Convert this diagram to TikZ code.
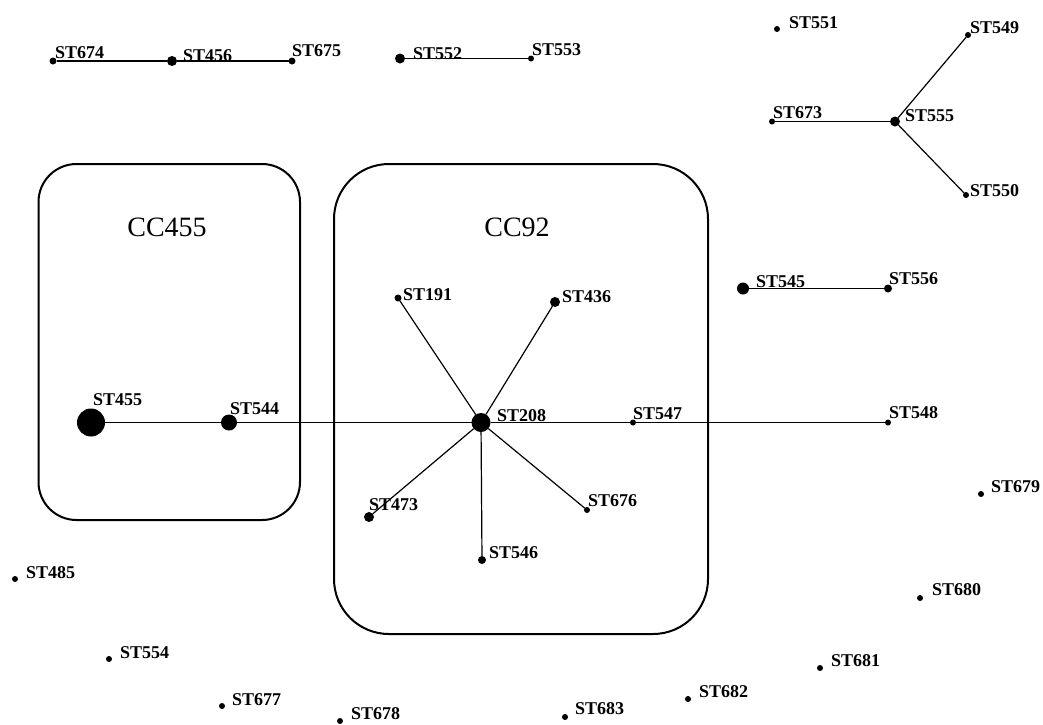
\documentclass[tikz,border=0pt]{standalone}
\usepackage{fontspec}
\setmainfont{Liberation Serif}
\newcommand{\stdot}[6]{%
  \node[dot,minimum size=#4pt] (s#1) at (#2,#3) {};
  \node[lab] (l#1) at (#5,#6) {ST#1};}
\tikzset{
  dot/.style={circle,fill=black,inner sep=0pt,outer sep=0pt},
  lab/.style={anchor=base west,inner sep=0pt,font=\bfseries\fontsize{18}{18}\selectfont},
  cclab/.style={anchor=base,inner sep=0pt,font=\fontsize{28}{28}\selectfont},
  link/.style={line width=1.2pt},
  ccbox/.style={line width=2pt}
}
\begin{document}
\begin{tikzpicture}[x=1pt,y=-1pt]
\useasboundingbox (0,0) rectangle (1043,724);
% cluster boxes
\draw[ccbox,rounded corners=38pt] (38.5,164) rectangle (300,520);
\draw[ccbox,rounded corners=55pt] (334,164) rectangle (708,634);
\node[cclab] (cc455) at (167,236) {CC455};
\node[cclab] (cc92) at (517,236) {CC92};
% top left chain
\stdot{674}{53}{61}{7}{55}{58}
\stdot{456}{172}{61}{10}{183}{61}
\stdot{675}{292}{61}{7}{292}{56}
\stdot{552}{400}{58.5}{10}{413}{59}
\stdot{553}{531}{58.5}{6}{532}{55}
% top right
\stdot{551}{777}{29}{6}{789}{28}
\stdot{549}{968}{35}{6}{970}{33}
\stdot{673}{772}{121.5}{6}{773}{118}
\stdot{555}{895}{121.5}{10}{905}{121}
\stdot{550}{966}{195}{6}{970}{196}
% main chain
\stdot{455}{91}{422.5}{28}{93}{405}
\stdot{544}{229}{422.5}{16}{230}{414}
\stdot{208}{481}{422.5}{19}{497}{421}
\stdot{547}{633}{422.5}{6}{633}{419}
\stdot{548}{888}{422.5}{6}{889}{418}
\stdot{191}{398}{298}{7}{403}{300}
\stdot{436}{555}{302}{10}{562}{302}
\stdot{473}{369}{517}{10}{369}{510}
\stdot{676}{587}{510}{6}{588}{506}
\stdot{546}{482}{560}{8}{489}{558}
\stdot{545}{743}{288.5}{12}{756}{287}
\stdot{556}{888}{288.5}{8}{889}{284}
% singletons
\stdot{679}{981}{494}{6}{991}{492}
\stdot{485}{15}{579}{6}{26}{578}
\stdot{680}{920}{598}{6}{932}{595}
\stdot{554}{109}{659}{6}{120}{658}
\stdot{681}{820}{668}{6}{831}{666}
\stdot{677}{222}{706}{6}{232}{705}
\stdot{678}{340}{721}{6}{351}{719}
\stdot{683}{565}{717}{6}{575}{714}
\stdot{682}{688}{699}{6}{699}{697}
% connectors
\draw[link] (s674) -- (s456) -- (s675);
\draw[link] (s552) -- (s553);
\draw[link] (s673) -- (s555);
\draw[link] (s555) -- (s549);
\draw[link] (s555) -- (s550);
\draw[link] (s545) -- (s556);
\draw[link] (s455) -- (s544);
\draw[link] (s544) -- (s208);
\draw[link] (s208) -- (s547);
\draw[link] (s547) -- (s548);
\draw[link] (s208) -- (s191);
\draw[link] (s208) -- (s436);
\draw[link] (s208) -- (s473);
\draw[link] (s208) -- (s676);
\draw[link] (s208) -- (s546);
\end{tikzpicture}
\end{document}
